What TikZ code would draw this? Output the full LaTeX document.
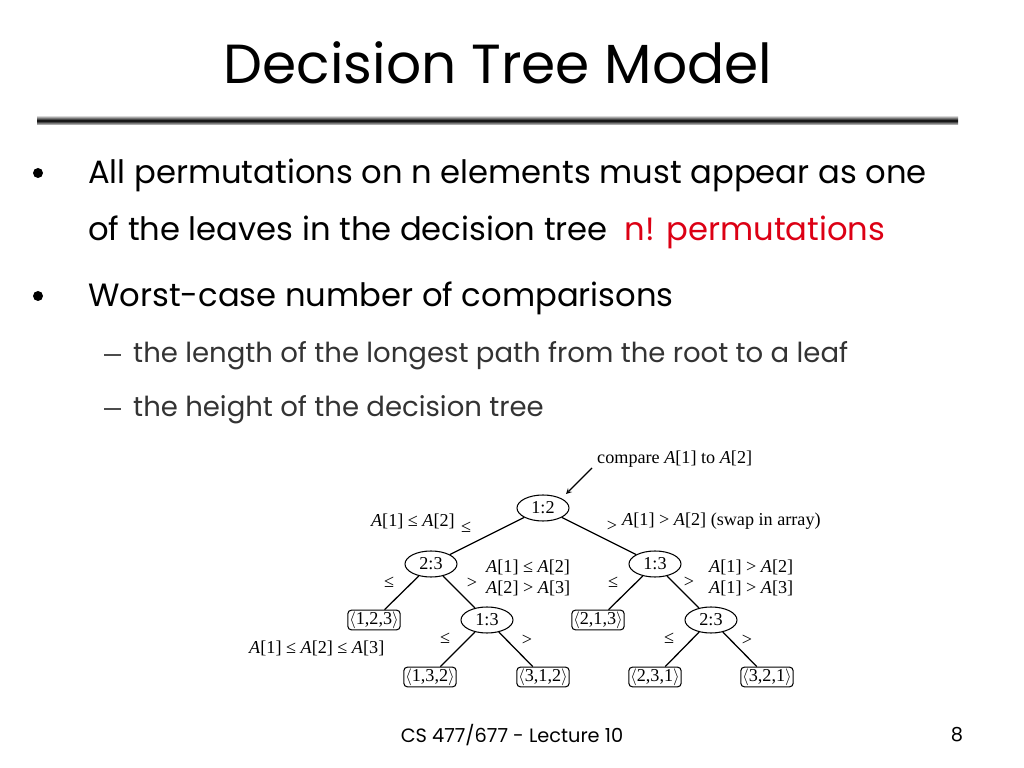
\documentclass[tikz,border=0pt]{standalone}
\usepackage{fontspec}
\setmainfont{Poppins}
\newfontfamily\treefont{Liberation Serif}
\usetikzlibrary{shapes.geometric}
\newcommand{\A}{\textit{A}}
\tikzset{
  cmp/.style={draw, ellipse, line width=0.9pt, inner sep=0.5pt, minimum width=52*0.03cm, minimum height=26*0.03cm, font=\treefont\fontsize{15.5}{15.5}\selectfont},
  leaf/.style={draw, rounded corners=3pt, line width=0.9pt, inner sep=1.2pt, font=\treefont\fontsize{15.5}{15.5}\selectfont},
  lbl/.style={font=\treefont\fontsize{15.5}{18}\selectfont, inner sep=0pt},
  edge/.style={line width=1.1pt}
}
\begin{document}
\begin{tikzpicture}[x=0.03cm, y=-0.03cm]
\useasboundingbox (0,0) rectangle (1024,768);
% title
\node (title) at (498,63) {\fontsize{47}{47}\selectfont Decision Tree Model};
\shade[top color=gray!30, bottom color=gray!30, middle color=black] (37,116) rectangle (958,125);
% bullets
\fill (38,173) circle (5);
\node[anchor=base west, inner sep=0pt] (b1) at (88,184) {\fontsize{27.5}{27.5}\selectfont All permutations on n elements must appear as one};
\node[anchor=base west, inner sep=0pt] (b1b) at (88,241) {\fontsize{27.5}{27.5}\selectfont of the leaves in the decision tree\ \ \textcolor[RGB]{220,0,20}{n! permutations}};
\fill (38,296) circle (5);
\node[anchor=base west, inner sep=0pt] (b2) at (88,307) {\fontsize{27.5}{27.5}\selectfont Worst-case number of comparisons};
\draw[line width=1.2pt, black!70] (104,355) -- (121,355);
\node[anchor=base west, inner sep=0pt, text=black!80] (s1) at (133,363) {\fontsize{23.5}{23.5}\selectfont the length of the longest path from the root to a leaf};
\draw[line width=1.2pt, black!70] (104,409) -- (121,409);
\node[anchor=base west, inner sep=0pt, text=black!80] (s2) at (133,417) {\fontsize{23.5}{23.5}\selectfont the height of the decision tree};
% tree
\node[cmp] (r) at (543,508) {1:2};
\node[cmp] (l) at (431,564) {2:3};
\node[cmp] (rr) at (655,564) {1:3};
\node[leaf] (a) at (374,620) {$\langle$1,2,3$\rangle$};
\node[cmp] (lr) at (487,620) {1:3};
\node[leaf] (b) at (598,620) {$\langle$2,1,3$\rangle$};
\node[cmp] (rrr) at (711,620) {2:3};
\node[leaf] (c) at (430,677) {$\langle$1,3,2$\rangle$};
\node[leaf] (d) at (543,677) {$\langle$3,1,2$\rangle$};
\node[leaf] (e) at (655,677) {$\langle$2,3,1$\rangle$};
\node[leaf] (f) at (767,677) {$\langle$3,2,1$\rangle$};
\foreach \u/\v in {r/l, r/rr, l/a, l/lr, rr/b, rr/rrr, lr/c, lr/d, rrr/e, rrr/f}
  \draw[edge] (\u) -- (\v);
% labels
\node[lbl, anchor=west] (cmpt) at (597,459) {compare \A[1] to \A[2]};
\coordinate (tip) at (566,494);
\draw[line width=1.1pt, -stealth] (592,468) -- (tip);
\node[lbl, anchor=east] (t1) at (455,521) {\A[1] ≤ \A[2]};
\node[lbl] (le1) at (466,527) {≤};
\node[lbl] (gt1) at (612,526) {>};
\node[lbl, anchor=west] (t2) at (622,521) {\A[1] > \A[2] (swap in array)};
\node[lbl, anchor=west, align=left] (t3) at (486,578) {\A[1] ≤ \A[2]\\\A[2] > \A[3]};
\node[lbl, anchor=west, align=left] (t4) at (709,578) {\A[1] > \A[2]\\\A[1] > \A[3]};
\node[lbl] (le2) at (389,582) {≤};
\node[lbl] (gt2) at (472,583) {>};
\node[lbl] (le3) at (613,582) {≤};
\node[lbl] (gt3) at (689,582) {>};
\node[lbl] (le4) at (445,638) {≤};
\node[lbl] (gt4) at (527,640) {>};
\node[lbl] (le5) at (669,638) {≤};
\node[lbl] (gt5) at (747,640) {>};
\node[lbl, anchor=west] (t5) at (249,648) {\A[1] ≤ \A[2] ≤ \A[3]};
% footer
\node (foot) at (512,735) {\fontsize{16.5}{16.5}\selectfont CS 477/677 - Lecture 10};
\node (pg) at (957,735) {\fontsize{16.5}{16.5}\selectfont 8};
\end{tikzpicture}
\end{document}
